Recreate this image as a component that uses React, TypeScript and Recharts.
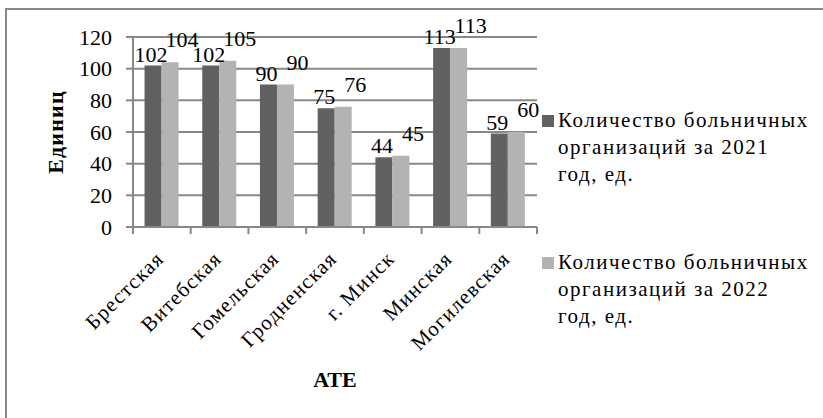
import * as React from "react";
import { BarChart, Bar, XAxis, YAxis, CartesianGrid, LabelList } from "recharts";

const regions = ["Брестская", "Витебская", "Гомельская", "Гродненская", "г. Минск", "Минская", "Могилевская"];
const hospitals2021 = [102, 102, 90, 75, 44, 113, 59];
const hospitals2022 = [104, 105, 90, 76, 45, 113, 60];
const yTicks = [0, 20, 40, 60, 80, 100, 120];
const legendLines2021 = ["Количество больничных", "организаций за 2021", "год, ед."];
const legendLines2022 = ["Количество больничных", "организаций за 2022", "год, ед."];

const FONT = "Liberation Serif, Times New Roman, serif";
const DARK = "#616161";
const LIGHT = "#b3b3b3";
const GRID = "#888888";

const data = regions.map((name, i) => ({
  name,
  y2021: hospitals2021[i],
  y2022: hospitals2022[i],
}));

function CategoryTick(props: any) {
  const { x, y, payload, index, visibleTicksCount, width } = props;
  const half = payload && payload.offset ? payload.offset : width / visibleTicksCount / 2;
  const last = index === visibleTicksCount - 1;
  const ax = x + 3;
  const ay = y + 26;
  return (
    <g>
      <line x1={x - half} x2={x - half} y1={y - 7} y2={y} stroke={GRID} strokeWidth={2} />
      {last && <line x1={x + half} x2={x + half} y1={y - 7} y2={y} stroke={GRID} strokeWidth={2} />}
      <text
        x={ax}
        y={ay}
        textAnchor="end"
        transform={`rotate(-45, ${ax}, ${ay})`}
        fontFamily={FONT}
        fontSize={21}
        letterSpacing={1.2}
        fill="#000"
      >
        {payload.value}
      </text>
    </g>
  );
}

function makeValueLabel(dx: number, lift: number) {
  return (props: any) => {
    const { x, y, width, value } = props;
    return (
      <text x={x + width / 2 + dx} y={y - lift} textAnchor="middle" fontFamily={FONT} fontSize={22} fill="#000">
        {value}
      </text>
    );
  };
}

function YTitle(props: any) {
  const { viewBox } = props;
  const cx = 55;
  const cy = viewBox.y + viewBox.height / 2;
  return (
    <text
      x={cx}
      y={cy}
      textAnchor="middle"
      dominantBaseline="central"
      transform={`rotate(-90, ${cx}, ${cy})`}
      fontFamily={FONT}
      fontSize={22}
      fontWeight="bold"
      letterSpacing={1.2}
      fill="#000"
    >
      Единиц
    </text>
  );
}

function XTitle(props: any) {
  const { viewBox } = props;
  return (
    <text
      x={viewBox.x + viewBox.width / 2}
      y={387}
      textAnchor="middle"
      fontFamily={FONT}
      fontSize={22}
      fontWeight="bold"
      fill="#000"
    >
      АТЕ
    </text>
  );
}

function LegendEntry({ color, lines }: { color: string; lines: string[] }) {
  return (
    <div style={{ display: "flex", alignItems: "flex-start" }}>
      <div style={{ width: 12, height: 12, background: color, marginTop: 8, marginRight: 4, flex: "none" }} />
      <div
        style={{
          fontFamily: FONT,
          fontSize: 21,
          lineHeight: "27px",
          letterSpacing: 1.5,
          color: "#000",
          whiteSpace: "nowrap",
        }}
      >
        {lines.map((l) => (
          <div key={l}>{l}</div>
        ))}
      </div>
    </div>
  );
}

export default function App() {
  return (
    <div style={{ position: "absolute", left: 0, top: 0, width: 823, height: 418, overflow: "hidden", background: "#fff" }}>
      <div
        style={{
          position: "absolute",
          left: 5,
          top: 8,
          width: 900,
          height: 500,
          borderLeft: `2px solid ${GRID}`,
          borderTop: `2px solid ${GRID}`,
        }}
      />
      <div style={{ position: "absolute", left: 0, top: 0 }}>
        <BarChart
          width={823}
          height={418}
          data={data}
          margin={{ top: 37, right: 286, bottom: 0, left: 0 }}
          barCategoryGap="20%"
          barGap={0}
        >
          <CartesianGrid vertical={false} stroke={GRID} strokeWidth={2} />
          <XAxis
            dataKey="name"
            height={191}
            interval={0}
            tickSize={7}
            tickMargin={0}
            tickLine={false}
            axisLine={{ stroke: GRID, strokeWidth: 2 }}
            tick={<CategoryTick />}
            label={{ content: <XTitle /> }}
          />
          <YAxis
            width={133}
            domain={[0, 120]}
            ticks={yTicks}
            interval={0}
            tickSize={7}
            tickMargin={14}
            tickLine={{ stroke: GRID, strokeWidth: 2 }}
            axisLine={{ stroke: GRID, strokeWidth: 2 }}
            tick={{ fontFamily: FONT, fontSize: 22, fill: "#000" }}
            label={{ content: <YTitle /> }}
          />
          <Bar dataKey="y2021" fill={DARK} isAnimationActive={false}>
            <LabelList dataKey="y2021" content={makeValueLabel(-2, 4)} />
          </Bar>
          <Bar dataKey="y2022" fill={LIGHT} isAnimationActive={false}>
            <LabelList dataKey="y2022" content={makeValueLabel(12, 15)} />
          </Bar>
        </BarChart>
      </div>
      <div style={{ position: "absolute", left: 542, top: 107 }}>
        <LegendEntry color={DARK} lines={legendLines2021} />
        <div style={{ height: 61 }} />
        <LegendEntry color={LIGHT} lines={legendLines2022} />
      </div>
    </div>
  );
}
